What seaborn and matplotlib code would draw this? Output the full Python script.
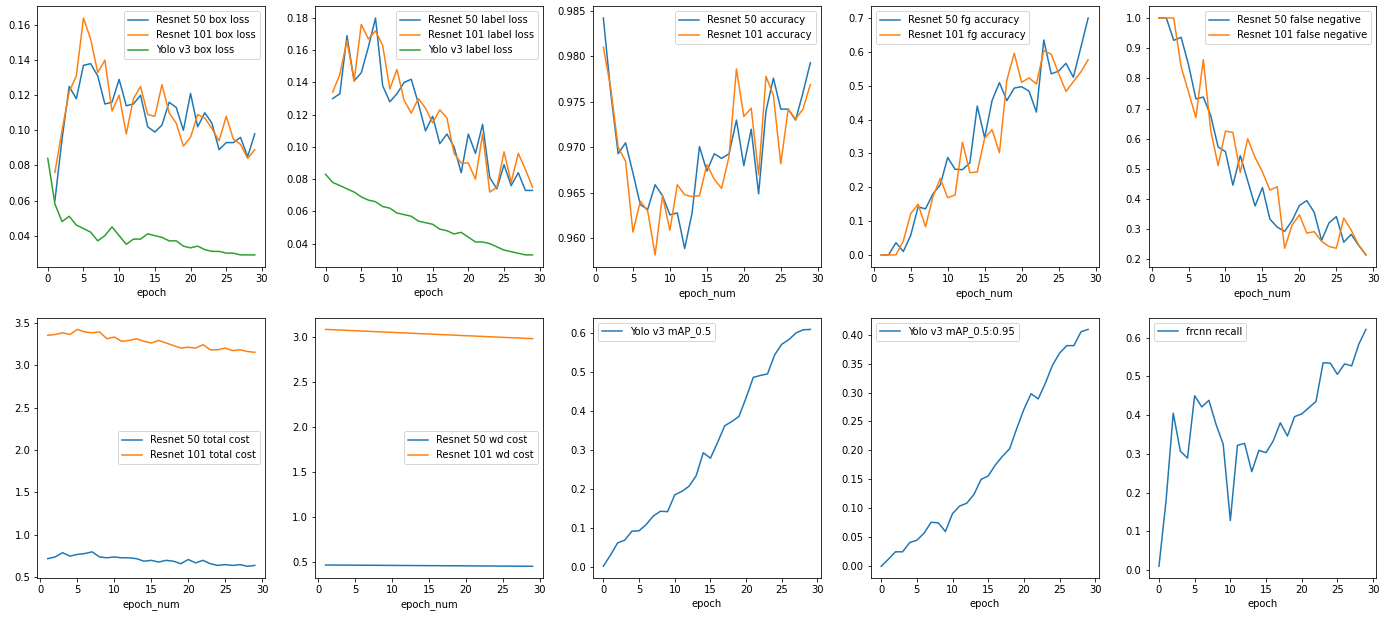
import matplotlib
matplotlib.use("Agg")
import matplotlib.pyplot as plt
import seaborn as sns

# ---------- DATA ----------

epoch_yolo = list(range(0, 30))
epoch_res = list(range(1, 30))

r50_box_loss = [0.060, 0.095, 0.125, 0.118, 0.137, 0.138, 0.131, 0.115, 0.116, 0.129,
                0.114, 0.115, 0.120, 0.102, 0.099, 0.103, 0.116, 0.113, 0.100, 0.121,
                0.102, 0.110, 0.104, 0.089, 0.093, 0.093, 0.096, 0.085, 0.098]
r101_box_loss = [0.076, 0.100, 0.122, 0.131, 0.164, 0.152, 0.133, 0.140, 0.111, 0.120,
                 0.098, 0.118, 0.125, 0.109, 0.108, 0.126, 0.110, 0.104, 0.091, 0.096,
                 0.109, 0.107, 0.101, 0.094, 0.108, 0.095, 0.092, 0.084, 0.089]
yolo_box_loss = [0.084, 0.058, 0.048, 0.051, 0.046, 0.044, 0.042, 0.037, 0.040, 0.045,
                 0.040, 0.035, 0.038, 0.038, 0.041, 0.040, 0.039, 0.037, 0.037, 0.034,
                 0.033, 0.034, 0.032, 0.031, 0.031, 0.030, 0.030, 0.029, 0.029, 0.029]

r50_label_loss = [0.130, 0.133, 0.169, 0.141, 0.146, 0.162, 0.180, 0.138, 0.128, 0.133,
                  0.140, 0.142, 0.127, 0.110, 0.119, 0.102, 0.108, 0.100, 0.084, 0.108,
                  0.096, 0.114, 0.081, 0.074, 0.089, 0.076, 0.084, 0.073, 0.073]
r101_label_loss = [0.134, 0.145, 0.166, 0.141, 0.176, 0.167, 0.172, 0.163, 0.136, 0.148,
                   0.129, 0.121, 0.130, 0.124, 0.115, 0.123, 0.118, 0.096, 0.090, 0.090,
                   0.080, 0.108, 0.072, 0.075, 0.097, 0.078, 0.096, 0.086, 0.075]
yolo_label_loss = [0.083, 0.078, 0.076, 0.074, 0.072, 0.069, 0.067, 0.066, 0.063, 0.062,
                   0.059, 0.058, 0.057, 0.054, 0.053, 0.052, 0.049, 0.048, 0.046, 0.047,
                   0.044, 0.041, 0.041, 0.040, 0.038, 0.036, 0.035, 0.034, 0.033, 0.033]

r50_accuracy = [0.9842, 0.9760, 0.9693, 0.9705, 0.9672, 0.9637, 0.9632, 0.9659, 0.9647, 0.9626,
                0.9628, 0.9589, 0.9628, 0.9701, 0.9674, 0.9693, 0.9688, 0.9693, 0.9730, 0.9680,
                0.9720, 0.9649, 0.9740, 0.9776, 0.9742, 0.9742, 0.9730, 0.9760, 0.9793]
r101_accuracy = [0.9810, 0.9765, 0.9700, 0.9685, 0.9607, 0.9641, 0.9630, 0.9582, 0.9647, 0.9609,
                 0.9659, 0.9648, 0.9646, 0.9647, 0.9681, 0.9665, 0.9655, 0.9690, 0.9786, 0.9734,
                 0.9743, 0.9670, 0.9778, 0.9757, 0.9682, 0.9742, 0.9731, 0.9742, 0.9769]

r50_fg_accuracy = [0.0, 0.0, 0.036, 0.010, 0.058, 0.142, 0.136, 0.180, 0.207, 0.288,
                   0.253, 0.252, 0.272, 0.440, 0.346, 0.456, 0.509, 0.456, 0.493, 0.497,
                   0.484, 0.422, 0.635, 0.535, 0.543, 0.566, 0.525, 0.612, 0.700]
r101_fg_accuracy = [0.0, 0.0, 0.0, 0.041, 0.122, 0.150, 0.083, 0.172, 0.226, 0.169,
                    0.177, 0.333, 0.243, 0.245, 0.345, 0.370, 0.302, 0.516, 0.596, 0.510,
                    0.523, 0.505, 0.604, 0.593, 0.537, 0.483, 0.512, 0.540, 0.577]

r50_false_negative = [1.0, 1.0, 0.926, 0.936, 0.845, 0.732, 0.738, 0.677, 0.573, 0.557,
                      0.446, 0.544, 0.461, 0.377, 0.438, 0.334, 0.307, 0.293, 0.328, 0.379,
                      0.395, 0.356, 0.263, 0.321, 0.342, 0.257, 0.283, 0.247, 0.215]
r101_false_negative = [1.0, 1.0, 1.0, 0.838, 0.755, 0.670, 0.862, 0.628, 0.511, 0.625,
                       0.621, 0.488, 0.600, 0.538, 0.490, 0.430, 0.441, 0.237, 0.313, 0.348,
                       0.287, 0.292, 0.260, 0.243, 0.237, 0.337, 0.297, 0.249, 0.215]

r50_total_cost = [0.72, 0.74, 0.79, 0.75, 0.77, 0.78, 0.80, 0.74, 0.73, 0.74,
                  0.73, 0.73, 0.72, 0.69, 0.70, 0.68, 0.70, 0.69, 0.66, 0.71,
                  0.67, 0.70, 0.66, 0.64, 0.65, 0.64, 0.65, 0.63, 0.64]
r101_total_cost = [3.35, 3.36, 3.38, 3.36, 3.42, 3.39, 3.38, 3.39, 3.31, 3.33,
                   3.28, 3.29, 3.31, 3.28, 3.26, 3.29, 3.26, 3.23, 3.20, 3.21,
                   3.20, 3.24, 3.18, 3.18, 3.20, 3.17, 3.18, 3.16, 3.15]

r50_wd_cost = [0.470, 0.470, 0.469, 0.469, 0.468, 0.468, 0.467, 0.467, 0.466, 0.466,
               0.465, 0.465, 0.464, 0.464, 0.463, 0.463, 0.462, 0.462, 0.461, 0.461,
               0.460, 0.460, 0.459, 0.459, 0.458, 0.458, 0.457, 0.457, 0.456]
r101_wd_cost = [3.080, 3.076, 3.073, 3.069, 3.065, 3.062, 3.058, 3.054, 3.050, 3.047,
                3.043, 3.040, 3.036, 3.032, 3.029, 3.025, 3.021, 3.018, 3.014, 3.010,
                3.007, 3.003, 2.999, 2.996, 2.992, 2.988, 2.985, 2.981, 2.977]

yolo_map_05 = [0.003, 0.032, 0.063, 0.070, 0.093, 0.094, 0.110, 0.132, 0.144, 0.143,
               0.186, 0.195, 0.208, 0.235, 0.294, 0.280, 0.320, 0.363, 0.374, 0.387,
               0.435, 0.487, 0.492, 0.496, 0.545, 0.572, 0.584, 0.601, 0.609, 0.610]
yolo_map_05_095 = [0.000, 0.012, 0.025, 0.025, 0.041, 0.045, 0.057, 0.076, 0.075, 0.060,
                   0.091, 0.104, 0.109, 0.124, 0.150, 0.156, 0.175, 0.190, 0.203, 0.238,
                   0.271, 0.298, 0.289, 0.316, 0.347, 0.368, 0.381, 0.381, 0.405, 0.409]

frcnn_recall = [0.010, 0.180, 0.405, 0.307, 0.289, 0.450, 0.421, 0.438, 0.376, 0.325,
                0.128, 0.322, 0.327, 0.254, 0.309, 0.303, 0.333, 0.380, 0.346, 0.396,
                0.403, 0.419, 0.435, 0.535, 0.534, 0.505, 0.532, 0.527, 0.583, 0.621]

# ---------- PANELS ----------

panels = [
    ([(epoch_res, r50_box_loss, "Resnet 50 box loss"),
      (epoch_res, r101_box_loss, "Resnet 101 box loss"),
      (epoch_yolo, yolo_box_loss, "Yolo v3 box loss")], "epoch", "upper right"),
    ([(epoch_res, r50_label_loss, "Resnet 50 label loss"),
      (epoch_res, r101_label_loss, "Resnet 101 label loss"),
      (epoch_yolo, yolo_label_loss, "Yolo v3 label loss")], "epoch", "upper right"),
    ([(epoch_res, r50_accuracy, "Resnet 50 accuracy"),
      (epoch_res, r101_accuracy, "Resnet 101 accuracy")], "epoch_num", "upper right"),
    ([(epoch_res, r50_fg_accuracy, "Resnet 50 fg accuracy"),
      (epoch_res, r101_fg_accuracy, "Resnet 101 fg accuracy")], "epoch_num", "upper left"),
    ([(epoch_res, r50_false_negative, "Resnet 50 false negative"),
      (epoch_res, r101_false_negative, "Resnet 101 false negative")], "epoch_num", "upper right"),
    ([(epoch_res, r50_total_cost, "Resnet 50 total cost"),
      (epoch_res, r101_total_cost, "Resnet 101 total cost")], "epoch_num", "center right"),
    ([(epoch_res, r50_wd_cost, "Resnet 50 wd cost"),
      (epoch_res, r101_wd_cost, "Resnet 101 wd cost")], "epoch_num", "center right"),
    ([(epoch_yolo, yolo_map_05, "Yolo v3 mAP_0.5")], "epoch", "upper left"),
    ([(epoch_yolo, yolo_map_05_095, "Yolo v3 mAP_0.5:0.95")], "epoch", "upper left"),
    ([(epoch_yolo, frcnn_recall, "frcnn recall")], "epoch", "upper left"),
]

fig, axes = plt.subplots(2, 5, figsize=(1386 / 72, 617 / 72), dpi=72)

for ax, (series, xlabel, loc) in zip(axes.flat, panels):
    for x, y, label in series:
        sns.lineplot(x=x, y=y, label=label, ax=ax)
    ax.set_xlabel(xlabel)
    ax.set_xticks([0, 5, 10, 15, 20, 25, 30])
    ax.legend(loc=loc)

plt.subplots_adjust(left=0.027, right=0.993, top=0.990, bottom=0.063,
                    wspace=0.22, hspace=0.195)

plt.savefig("out.png", dpi=72)
